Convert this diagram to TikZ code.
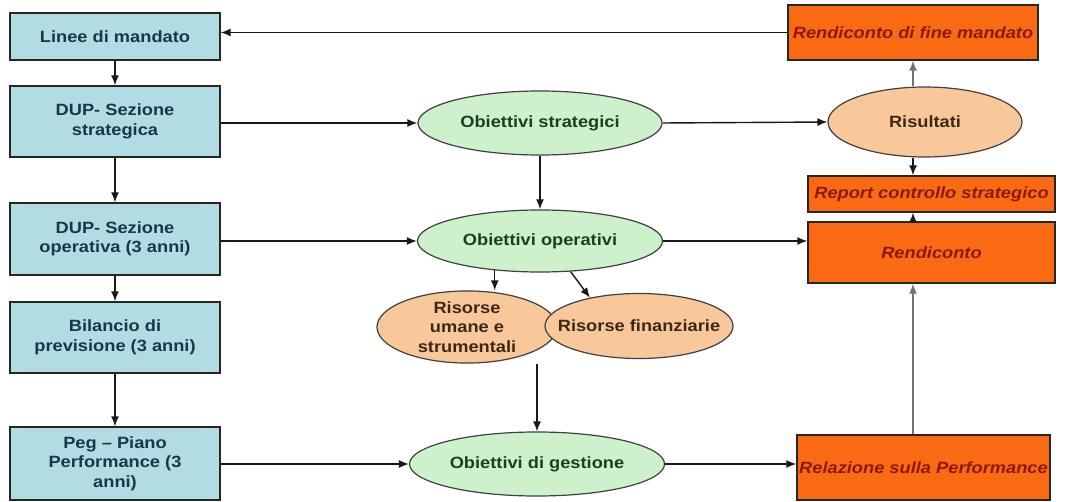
\documentclass[tikz,border=0pt]{standalone}
\usepackage{fontspec}
\setmainfont[FakeStretch=1.12]{Liberation Sans}
\usepackage{tikz}
\usetikzlibrary{shapes.geometric, arrows, arrows.meta}
\definecolor{boxblue}{HTML}{B2DCE4}
\definecolor{boxtext}{HTML}{17384A}
\definecolor{goalgreen}{HTML}{CDF2CB}
\definecolor{goaltext}{HTML}{1B3F20}
\definecolor{peach}{HTML}{F8C89A}
\definecolor{peachtext}{HTML}{3D2818}
\definecolor{reporange}{HTML}{FA6A12}
\definecolor{reptext}{HTML}{8A1A05}
\tikzstyle{docbox} = [rectangle, draw=black!85, line width=1.4pt, fill=boxblue, text=boxtext, font=\fontsize{16.3}{19.5}\selectfont\bfseries, align=center, minimum width=210pt, inner sep=0pt]
\tikzstyle{goal} = [ellipse, draw=black!75, line width=1.2pt, fill=goalgreen, text=goaltext, font=\fontsize{16.3}{19.5}\selectfont\bfseries, align=center, inner sep=0pt]
\tikzstyle{resource} = [ellipse, draw=black!75, line width=1.2pt, fill=peach, text=peachtext, font=\fontsize{16.3}{19.5}\selectfont\bfseries, align=center, inner sep=0pt]
\tikzstyle{report} = [rectangle, draw=black!85, line width=1.4pt, fill=reporange, text=reptext, font=\fontsize{16.3}{19.5}\selectfont\bfseries\itshape, align=center, inner sep=0pt]
\tikzstyle{arrow} = [line width=1.4pt, draw=black!90, -{Latex[length=10pt,width=8pt]}]
\tikzstyle{greyarrow} = [arrow, draw=black!55]
\begin{document}
\begin{tikzpicture}[x=1pt, y=-1pt]
    \fill[white] (0,0) rectangle (1065,502);
    \useasboundingbox (0,0) rectangle (1065,502);

    % left column
    \node (linee) [docbox, minimum height=47pt] at (115,36.5) {Linee di mandato};
    \node (dupstr) [docbox, minimum height=71pt] at (115,121.5) {DUP- Sezione\\strategica};
    \node (dupop) [docbox, minimum height=72pt] at (115,239) {DUP- Sezione\\operativa (3 anni)};
    \node (bilancio) [docbox, minimum height=71pt] at (115,337.5) {Bilancio di\\previsione (3 anni)};
    \node (peg) [docbox, minimum height=73pt] at (115,463.5) {Peg – Piano\\Performance (3\\anni)};

    % objectives
    \node (obstr) [goal, minimum width=244pt, minimum height=64pt] at (540,123) {Obiettivi strategici};
    \node (obop) [goal, minimum width=245pt, minimum height=62pt] at (540,241) {Obiettivi operativi};
    \node (umane) [resource, minimum width=180pt, minimum height=65pt] at (467,327) {Risorse\\umane e\\strumentali};
    \node (fin) [resource, inner xsep=-30pt, minimum width=188pt, minimum height=65pt] at (639,326) {Risorse finanziarie};
    \node (gest) [goal, minimum width=255pt, minimum height=64pt] at (537,464) {Obiettivi di gestione};

    % right column
    \node (rfm) [report, minimum width=250pt, minimum height=55pt] at (913,32.5) {Rendiconto di fine mandato};
    \node (risultati) [resource, minimum width=194pt, minimum height=70pt] at (925,122) {Risultati};
    \node (report) [report, minimum width=247pt, minimum height=36pt] at (931.5,194) {Report controllo strategico};
    \node (rend) [report, minimum width=247pt, minimum height=61pt] at (931.5,252.5) {Rendiconto};
    \node (rel) [report, minimum width=253pt, minimum height=65pt] at (923.5,467.5) {Relazione sulla Performance};
    \coordinate (vline) at (913,0);

    \draw[arrow] (rfm.west) -- (rfm.west -| linee.east);
    \draw[arrow] (linee) -- (dupstr);
    \draw[arrow] (dupstr) -- (dupop);
    \draw[arrow] (dupop) -- (bilancio);
    \draw[arrow] (bilancio) -- (peg);

    \draw[arrow] (dupstr.east |- obstr.west) -- (obstr.west);
    \draw[arrow] (obstr.east) -- (risultati.west);
    \draw[arrow] (obstr) -- (obop);
    \draw[arrow] (dupop.east |- obop.west) -- (obop.west);
    \draw[arrow] (obop.east) -- (rend.west |- obop.east);
    \draw[arrow] (obop.-147) -- (obop.-147 |- umane.north);
    \draw[arrow] (obop.-45) -- (fin.150);
    \draw[arrow] (gest.north |- umane.south) -- (gest.north);
    \draw[arrow] (peg.east |- gest.west) -- (gest.west);
    \draw[arrow] (gest.east) -- (rel.west |- gest.east);

    \draw[greyarrow] (risultati.north -| vline) -- (rfm.south -| vline);
    \draw[arrow] (risultati.south -| vline) -- (report.north -| vline);
    \draw[arrow] (rend.north -| vline) -- (report.south -| vline);
    \draw[greyarrow] (rel.north -| vline) -- (rend.south -| vline);
\end{tikzpicture}
\end{document}
